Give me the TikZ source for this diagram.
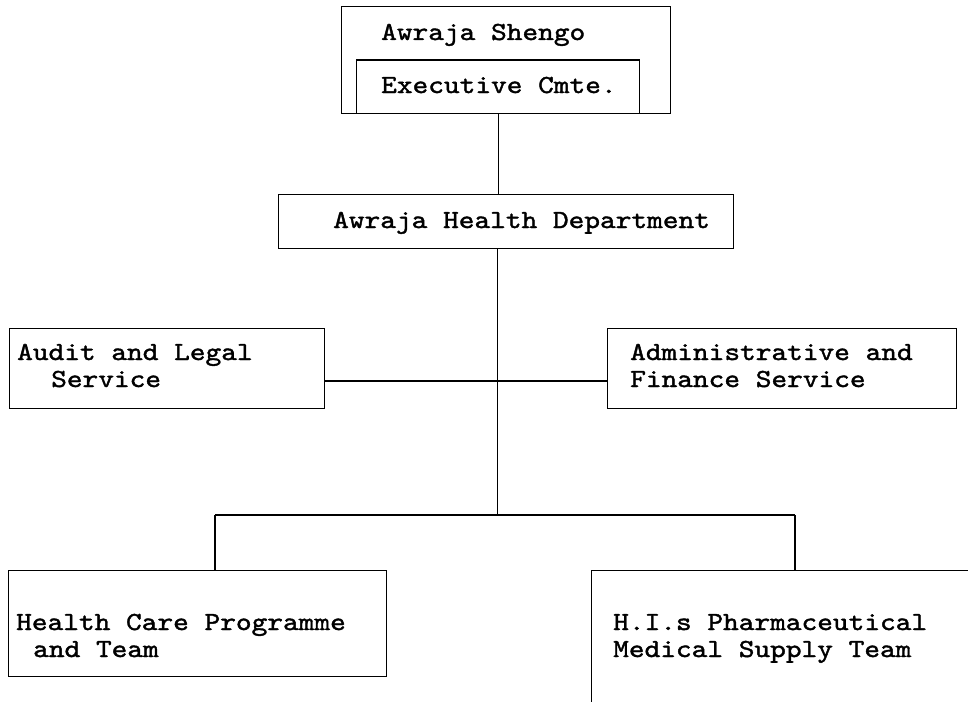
\documentclass[tikz,border=0pt]{standalone}
\usepackage{fontspec}
\newfontfamily\courfont{lmmono10-regular.otf}[FakeStretch=1.15, FakeBold=1.5]
\begin{document}
\begin{tikzpicture}[x=1pt,y=-1pt]
\tikzset{
  box/.style={draw, line width=1.4pt, rectangle, inner sep=0pt, anchor=north west},
  txt/.style={inner sep=0pt, anchor=base west, align=left, font=\courfont\fontsize{26}{27}\selectfont},
  link/.style={line width=1.4pt}
}
\useasboundingbox (0,0) rectangle (968,701);
\clip (0,0) rectangle (968,701);
% boxes
\node[box, minimum width=329pt, minimum height=107pt] (shengo) at (341,6) {};
\node[box, minimum width=283pt, minimum height=53.5pt] (exec) at (356,59.5) {};
\node[box, minimum width=455pt, minimum height=54pt] (hd) at (278,194) {};
\node[box, minimum width=315.5pt, minimum height=80pt] (audit) at (8.5,328) {};
\node[box, minimum width=349pt, minimum height=80pt] (admin) at (607,328) {};
\node[box, minimum width=378pt, minimum height=106pt] (hc) at (8,570) {};
\node[box, minimum width=420pt, minimum height=160pt] (his) at (591,570) {};
% texts
\node[txt] (t1) at (381,40) {Awraja Shengo};
\node[txt] (t2) at (381,93) {Executive Cmte.};
\node[txt] (t3) at (333,228) {Awraja Health Department};
\node[txt] (t4) at (17,387) {Audit and Legal\\\hspace*{34pt}Service};
\node[txt] (t5) at (630,387) {Administrative and\\Finance Service};
\node[txt] (t6) at (16,657) {Health Care Programme\\\hspace*{17pt}and Team};
\node[txt] (t7) at (613,657) {H.I.s Pharmaceutical\\Medical Supply Team};
% junctions
\coordinate (j1) at (497.5,381);
\coordinate (j2) at (497.5,515);
\coordinate (jl) at (215,515);
\coordinate (jr) at (795,515);
% connectors
\draw[link] (exec.south) -- (exec.south |- hd.north);
\draw[link] (hd.south -| j1) -- (j2);
\draw[link] (j1 -| audit.east) -- (j1 -| admin.west);
\draw[link] (jl) -- (jr);
\draw[link] (jl) -- (jl |- hc.north);
\draw[link] (jr) -- (jr |- his.north);
\end{tikzpicture}
\end{document}
